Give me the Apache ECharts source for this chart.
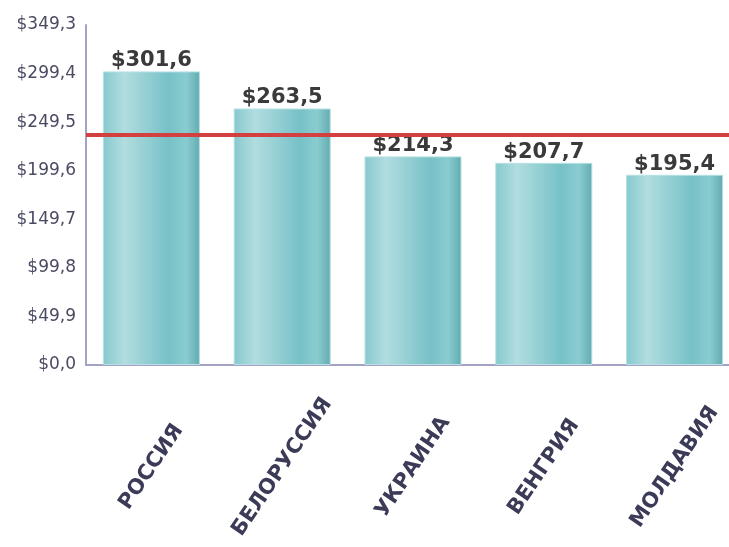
<!DOCTYPE html>
<html>
<head>
<meta charset="utf-8">
<script src="https://cdn.jsdelivr.net/npm/echarts@6/dist/echarts.min.js"></script>
<style>
  html, body { margin: 0; padding: 0; background: #fff; overflow: hidden; }
  /* the plot area runs past the right edge of the window, as in the original */
  #chart { width: 740px; height: 547px; }
</style>
</head>
<body>
<div id="chart"></div>
<script>
const countries = ['РОССИЯ', 'БЕЛОРУССИЯ', 'УКРАИНА', 'ВЕНГРИЯ', 'МОЛДАВИЯ'];
const values = [301.6, 263.5, 214.3, 207.7, 195.4];
const yMax = 349.3;
const yStep = 49.9;

const fmt = v => '$' + Number(v).toFixed(1).replace('.', ',');

// цилиндрическая заливка столбцов
const barFill = new echarts.graphic.LinearGradient(0, 0, 1, 0, [
  { offset: 0, color: '#86c9ce' },
  { offset: 0.22, color: '#b1dde0' },
  { offset: 0.45, color: '#94cfd3' },
  { offset: 0.68, color: '#76c1c7' },
  { offset: 0.86, color: '#8accd0' },
  { offset: 1, color: '#62abb0' }
]);

const chart = echarts.init(document.getElementById('chart'));
chart.setOption({
  animation: false,
  grid: { left: 86, right: 0, top: 25, bottom: 182 },
  xAxis: {
    type: 'category',
    data: countries,
    axisLine: { lineStyle: { color: '#a3a3c6', width: 2 } },
    axisTick: { show: false },
    axisLabel: {
      interval: 0,
      rotate: 56,
      align: 'center',
      verticalAlign: 'middle',
      margin: 102,
      color: '#3b3b58',
      fontFamily: 'DejaVu Sans',
      fontWeight: 'bold',
      fontSize: 21
    }
  },
  yAxis: {
    type: 'value',
    min: 0,
    max: yMax,
    interval: yStep,
    splitLine: { show: false },
    axisLine: { show: true, lineStyle: { color: '#a3a3c6', width: 2 } },
    axisTick: { show: false },
    axisLabel: {
      margin: 10,
      color: '#4a4a62',
      fontFamily: 'DejaVu Sans',
      fontSize: 17,
      formatter: fmt
    }
  },
  series: [{
    type: 'bar',
    data: values,
    barWidth: 97,
    itemStyle: { color: barFill, borderColor: '#b6e0e3', borderWidth: 1 },
    label: {
      show: true,
      position: 'top',
      distance: 0,
      color: '#3a3a3a',
      fontFamily: 'DejaVu Sans',
      fontWeight: 'bold',
      fontSize: 21,
      formatter: p => fmt(p.value)
    },
    markLine: {
      silent: true,
      symbol: 'none',
      label: { show: false },
      lineStyle: { color: '#d2403f', width: 4, type: 'solid' },
      data: [{ type: 'average' }]
    }
  }]
});
</script>
</body>
</html>
